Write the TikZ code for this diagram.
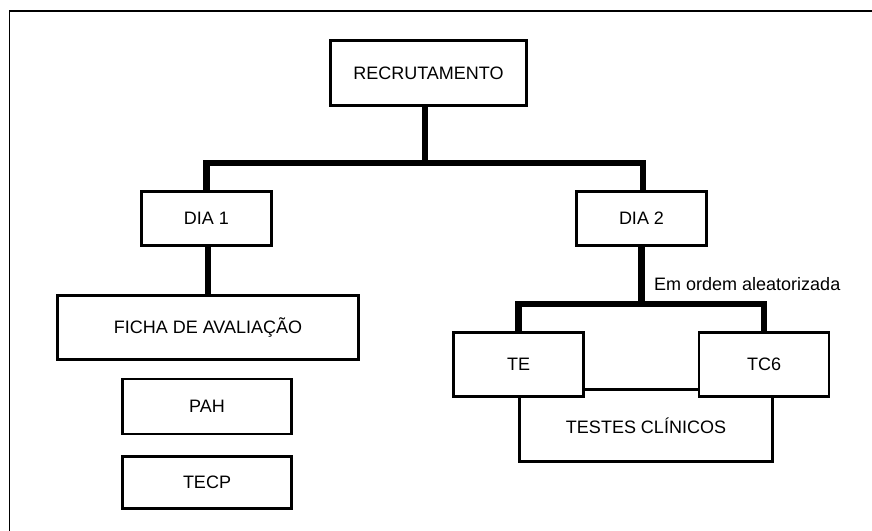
\documentclass[tikz,border=0pt]{standalone}
\usepackage{fontspec}
\setmainfont{Liberation Sans}
\begin{document}
\begin{tikzpicture}[x=1pt,y=-1pt,
  box/.style={draw, line width=2.5pt, fill=white, inner sep=0pt, font=\fontsize{18}{20}\selectfont},
  conn/.style={line width=6.5pt, line join=miter},
  lbl/.style={inner sep=0pt, font=\fontsize{18}{20}\selectfont}]
\useasboundingbox (0,0) rectangle (872,530);
\begin{scope}
\clip (0,0) rectangle (872,530);
\draw[line width=1.6pt] (9.5,11) rectangle (900,560);
\end{scope}
% coordinates for junction levels
\coordinate (h1) at (0,163);
\coordinate (h2) at (0,304);
% nodes positions
\path
  (428.5,73)   node[box, minimum width=196pt, minimum height=65pt] (rec) {RECRUTAMENTO}
  (206.5,218.5) node[box, minimum width=130pt, minimum height=54pt] (dia1) {DIA 1}
  (641.5,218.5) node[box, minimum width=130pt, minimum height=54pt] (dia2) {DIA 2}
  (208,327.5)  node[box, minimum width=301pt, minimum height=64pt] (ficha) {FICHA DE AVALIAÇÃO}
  (207,406.5)  node[box, minimum width=169pt, minimum height=55pt] (pah) {PAH}
  (207,482.5)  node[box, minimum width=169pt, minimum height=52pt] (tecp) {TECP}
  (646,425.5)  node[box, minimum width=253pt, minimum height=72pt] (testes) {TESTES CLÍNICOS};
% connectors
\draw[conn] ([xshift=-3.5pt]rec.south) -- ([xshift=-3.5pt]rec.south |- h1);
\draw[conn] (dia1.north) -- (dia1.north |- h1) -- ([xshift=1.5pt]dia2.north |- h1) -- ([xshift=1.5pt]dia2.north);
\draw[conn] ([xshift=1.5pt]dia1.south) -- ([xshift=1.5pt]ficha.north -| dia1.south);
\draw[conn] (dia2.south) -- (dia2.south |- h2);
\path (518.5,364.5) node[box, minimum width=130pt, minimum height=64pt] (te) {TE}
      (764,364.5)   node[box, minimum width=130pt, minimum height=64pt] (tc6) {TC6};
\draw[conn] (te.north) -- (te.north |- h2) -- (tc6.north |- h2) -- (tc6.north);
% redraw boxes over connector ends
\node[box, minimum width=196pt, minimum height=65pt] at (rec) {RECRUTAMENTO};
\node[box, minimum width=130pt, minimum height=54pt] at (dia1) {DIA 1};
\node[box, minimum width=130pt, minimum height=54pt] at (dia2) {DIA 2};
\node[box, minimum width=301pt, minimum height=64pt] at (ficha) {FICHA DE AVALIAÇÃO};
\node[box, minimum width=130pt, minimum height=64pt] at (te) {TE};
\node[box, minimum width=130pt, minimum height=64pt] at (tc6) {TC6};
\node[lbl, anchor=west] (ordem) at (654,284) {Em ordem aleatorizada};
\end{tikzpicture}
\end{document}
